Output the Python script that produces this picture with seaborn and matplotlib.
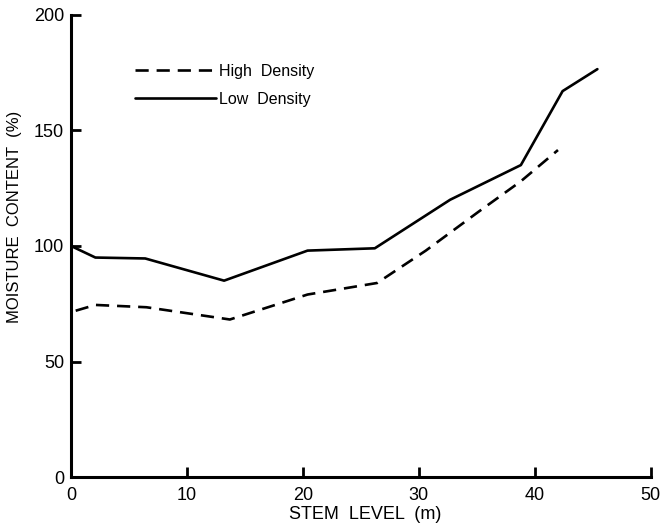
import matplotlib
matplotlib.use("Agg")
import matplotlib.pyplot as plt
import seaborn as sns
import pandas as pd

high_x = [0.4, 2.1, 6.5, 13.7, 20.4, 26.4, 30.6, 35.2, 38.8, 42.0]
high_y = [72, 74.5, 73.5, 68.2, 79, 84, 98, 115, 128, 141.5]
low_x = [0.0, 2.1, 6.4, 13.2, 20.4, 26.2, 32.7, 38.8, 42.4, 45.4]
low_y = [100, 95, 94.6, 85, 98, 99, 120, 135, 167, 176.5]
x_ticks = [0, 10, 20, 30, 40, 50]
y_ticks = [0, 50, 100, 150, 200]

df = pd.concat([
    pd.DataFrame({"x": high_x, "y": high_y, "Density": "High  Density"}),
    pd.DataFrame({"x": low_x, "y": low_y, "Density": "Low  Density"}),
], ignore_index=True)

sns.set_style("ticks")
plt.rcParams["font.family"] = ["Liberation Sans", "DejaVu Sans"]

fig = plt.figure(figsize=(6.64, 5.29), dpi=100)
ax = fig.add_axes([0.107, 0.098, 0.873, 0.874])

sns.lineplot(data=df, x="x", y="y", style="Density",
             style_order=["High  Density", "Low  Density"],
             dashes={"High  Density": (5, 3), "Low  Density": ""},
             color="black", linewidth=1.9, ax=ax, sort=False)

ax.set_xlim(0, 50)
ax.set_ylim(0, 200)
ax.set_xticks(x_ticks)
ax.set_yticks(y_ticks)
ax.tick_params(direction="in", length=7, width=2, labelsize=13, colors="black", pad=5)
ax.tick_params(axis="x", pad=7)
for s in ["top", "right"]:
    ax.spines[s].set_visible(False)
for s in ["left", "bottom"]:
    ax.spines[s].set_linewidth(2.2)
    ax.spines[s].set_color("black")

ax.set_xlabel("STEM  LEVEL  (m)", fontsize=13, color="black", va="center")
ax.set_ylabel("MOISTURE  CONTENT  (%)", fontsize=12, color="black")
ax.yaxis.set_label_coords(-0.085, 0.563)
ax.xaxis.set_label_coords(0.507, -0.08)

leg = ax.legend(loc="upper left", bbox_to_anchor=(0.11, 0.894), frameon=False,
                fontsize=11.5, handlelength=5.1, handletextpad=0.2, labelspacing=0.8,
                borderpad=0, borderaxespad=0, title=None)
for t in leg.get_texts():
    t.set_color("black")

fig.savefig("out.png", dpi=100)
